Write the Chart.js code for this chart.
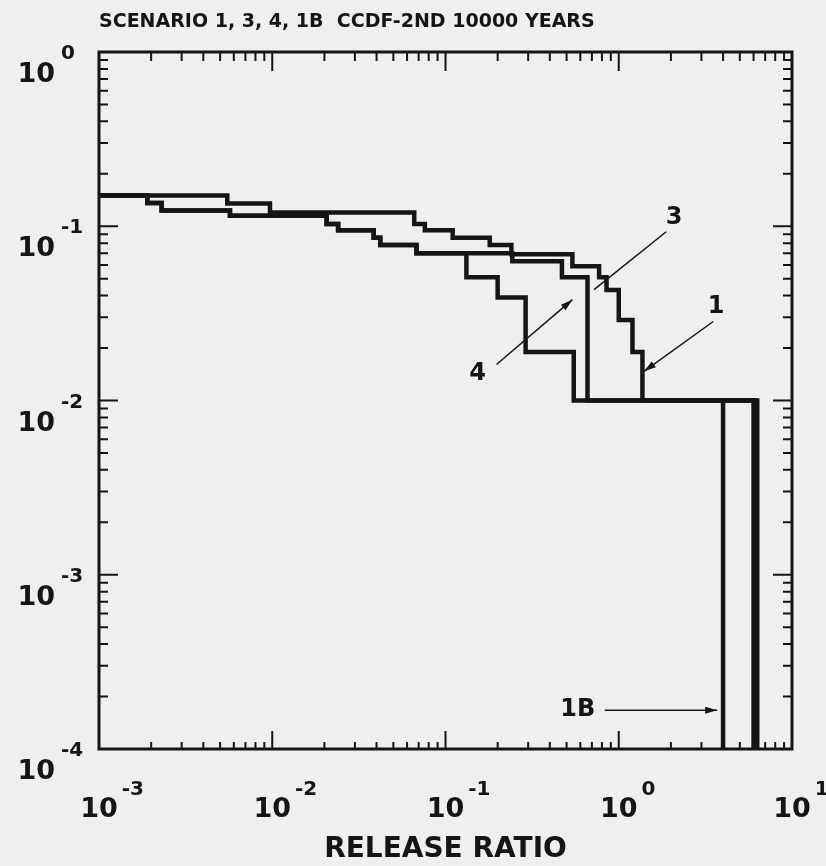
<!DOCTYPE html>
<html lang="en">
<head>
<meta charset="UTF-8">
<title>CCDF - 2nd 10000 years</title>
<script src="https://cdn.jsdelivr.net/npm/chart.js"></script>
<style>
  html, body { margin: 0; padding: 0; background: #efefeb; }
  #wrap { width: 826px; height: 866px; }
</style>
</head>
<body>
<div id="wrap"><canvas id="ccdf" width="826" height="866"></canvas></div>
<script>
// each curve: release ratio where a step starts, and the probability level from there on
const x1 = [0.001, 0.0055, 0.0097, 0.066, 0.076, 0.11, 0.18, 0.24, 0.54, 0.77, 0.85, 1.0, 1.2, 1.37, 6.3];
const y1 = [0.15, 0.135, 0.12, 0.103, 0.095, 0.086, 0.078, 0.069, 0.059, 0.051, 0.043, 0.029, 0.019, 0.01, 0.0001];

const x3 = [0.001, 0.0019, 0.0023, 0.0057, 0.0206, 0.024, 0.0385, 0.042, 0.068, 0.243, 0.47, 0.66, 6.1];
const y3 = [0.15, 0.136, 0.123, 0.115, 0.103, 0.095, 0.086, 0.078, 0.070, 0.063, 0.051, 0.01, 0.0001];

const x4 = [0.001, 0.0019, 0.0023, 0.0057, 0.0206, 0.024, 0.0385, 0.042, 0.068, 0.132, 0.2, 0.29, 0.55, 6.0];
const y4 = [0.15, 0.136, 0.123, 0.115, 0.103, 0.095, 0.086, 0.078, 0.070, 0.051, 0.039, 0.019, 0.01, 0.0001];

const x1B = [1.37, 4.0];
const y1B = [0.01, 0.0001];

// axis decades and the exponents printed on them
const xDecades = [0.001, 0.01, 0.1, 1, 10];
const xExp = ['-3', '-2', '-1', '0', '1'];
const yDecades = [1, 0.1, 0.01, 0.001, 0.0001];
const yExp = ['0', '-1', '-2', '-3', '-4'];

// curve labels with their leader lines (data coordinates)
const noteText = ['3', '4', '1', '1B'];
const noteAt = [[2.09, 0.112], [0.153, 0.0142], [3.65, 0.0346], [0.58, 0.000167]];
const leadFrom = [[1.88, 0.093], [0.197, 0.0161], [3.51, 0.0284], [0.83, 0.000167]];
const leadTo = [[0.72, 0.0433], [0.54, 0.0379], [1.40, 0.0147], [3.70, 0.000167]];
const arrowHead = [false, true, true, true];

const ink = '#151515';
const paper = '#efefeb';

function pts(xs, ys) {
    return xs.map((v, i) => ({ x: v, y: ys[i] }));
}

function curve(label, xs, ys) {
    return {
        label: label,
        data: pts(xs, ys),
        stepped: 'before',
        borderColor: ink,
        borderWidth: 4.5,
        pointRadius: 0,
        fill: false,
        borderJoinStyle: 'miter',
        borderCapStyle: 'butt'
    };
}

const framePlugin = {
    id: 'frame',
    beforeDraw(chart) {
        const ctx = chart.ctx;
        ctx.save();
        ctx.fillStyle = paper;
        ctx.fillRect(0, 0, chart.width, chart.height);
        ctx.restore();
    },
    afterDatasetsDraw(chart) {
        const { ctx, chartArea: a, scales } = chart;
        const sx = scales.x, sy = scales.y;
        ctx.save();
        ctx.strokeStyle = ink;
        ctx.fillStyle = ink;

        // frame
        ctx.lineWidth = 3;
        ctx.strokeRect(a.left, a.top, a.right - a.left, a.bottom - a.top);

        // inward ticks on all four sides
        ctx.lineWidth = 2;
        ctx.beginPath();
        for (let e = -3; e <= 0; e++) {
            for (let m = 1; m <= 9; m++) {
                const px = sx.getPixelForValue(m * Math.pow(10, e));
                const len = m === 1 ? 19 : 9;
                ctx.moveTo(px, a.bottom); ctx.lineTo(px, a.bottom - (m === 1 ? 18 : 7));
                ctx.moveTo(px, a.top); ctx.lineTo(px, a.top + len);
            }
        }
        for (let e = -4; e <= -1; e++) {
            for (let m = 1; m <= 9; m++) {
                const py = sy.getPixelForValue(m * Math.pow(10, e));
                const len = m === 1 ? 19 : 9;
                ctx.moveTo(a.left, py); ctx.lineTo(a.left + len, py);
                ctx.moveTo(a.right, py); ctx.lineTo(a.right - len, py);
            }
        }
        ctx.stroke();

        // tick labels 10^n
        const big = 'bold 27px "DejaVu Sans"';
        const small = 'bold 20px "DejaVu Sans"';
        ctx.textBaseline = 'alphabetic';
        xDecades.forEach((v, i) => {
            const px = sx.getPixelForValue(v);
            ctx.font = big;
            ctx.textAlign = 'center';
            ctx.fillText('10', px, a.bottom + 68);
            const w = ctx.measureText('10').width;
            ctx.font = small;
            ctx.textAlign = 'left';
            ctx.fillText(xExp[i], px + w / 2 + 4, a.bottom + 46);
        });
        yDecades.forEach((v, i) => {
            const py = sy.getPixelForValue(v);
            ctx.font = big;
            ctx.textAlign = 'right';
            ctx.fillText('10', a.left - 44, py + 30);
            ctx.font = small;
            ctx.textAlign = 'left';
            ctx.fillText(yExp[i], a.left - 38, py + 7);
        });

        // curve labels and leader lines
        ctx.lineWidth = 1.5;
        noteText.forEach((t, i) => {
            const x0 = sx.getPixelForValue(leadFrom[i][0]), y0 = sy.getPixelForValue(leadFrom[i][1]);
            const x1p = sx.getPixelForValue(leadTo[i][0]), y1p = sy.getPixelForValue(leadTo[i][1]);
            ctx.beginPath();
            ctx.moveTo(x0, y0);
            ctx.lineTo(x1p, y1p);
            ctx.stroke();
            if (arrowHead[i]) {
                const ang = Math.atan2(y1p - y0, x1p - x0);
                ctx.beginPath();
                ctx.moveTo(x1p, y1p);
                ctx.lineTo(x1p - 12 * Math.cos(ang) + 3.5 * Math.sin(ang), y1p - 12 * Math.sin(ang) - 3.5 * Math.cos(ang));
                ctx.lineTo(x1p - 12 * Math.cos(ang) - 3.5 * Math.sin(ang), y1p - 12 * Math.sin(ang) + 3.5 * Math.cos(ang));
                ctx.closePath();
                ctx.fill();
            }
            ctx.font = 'bold 24px "DejaVu Sans"';
            ctx.textAlign = 'center';
            ctx.textBaseline = 'middle';
            ctx.fillText(t, sx.getPixelForValue(noteAt[i][0]), sy.getPixelForValue(noteAt[i][1]));
        });
        ctx.restore();
    }
};

new Chart(document.getElementById('ccdf'), {
    type: 'line',
    data: {
        datasets: [
            curve('1', x1, y1),
            curve('3', x3, y3),
            curve('4', x4, y4),
            curve('1B', x1B, y1B)
        ]
    },
    options: {
        responsive: false,
        animation: false,
        devicePixelRatio: 1,
        layout: { padding: { left: 99, right: 34, top: 0, bottom: 0 } },
        scales: {
            x: { type: 'logarithmic', min: 0.001, max: 10, display: false },
            y: { type: 'logarithmic', min: 0.0001, max: 1, display: false }
        },
        plugins: {
            legend: { display: false },
            tooltip: { enabled: false },
            title: {
                display: true,
                text: 'SCENARIO 1, 3, 4, 1B  CCDF-2ND 10000 YEARS',
                align: 'start',
                color: ink,
                font: { family: 'DejaVu Sans', weight: 'bold', size: 19, lineHeight: 1 },
                padding: { top: 13, bottom: 20 }
            },
            subtitle: {
                display: true,
                position: 'bottom',
                text: 'RELEASE RATIO',
                color: ink,
                font: { family: 'DejaVu Sans', weight: 'bold', size: 28, lineHeight: 1 },
                padding: { top: 87, bottom: 2 }
            }
        }
    },
    plugins: [framePlugin]
});
</script>
</body>
</html>
